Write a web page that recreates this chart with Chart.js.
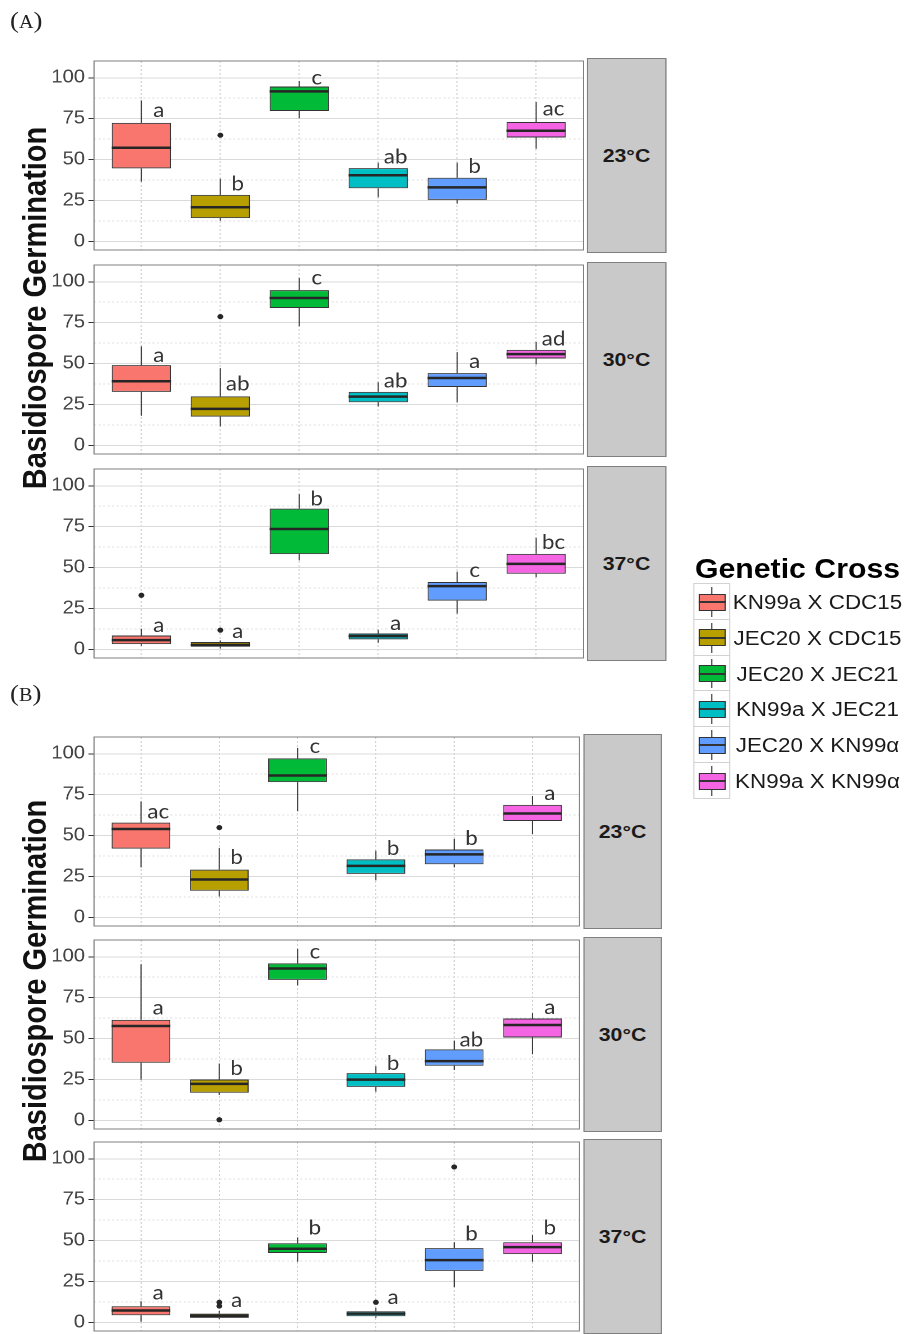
<!DOCTYPE html>
<html>
<head>
<meta charset="utf-8">
<script src="https://cdn.jsdelivr.net/npm/chart.js@4.4.1/dist/chart.umd.min.js"></script>
<style>
  html, body { margin: 0; padding: 0; background: #fff; }
  body { width: 909px; height: 1334px; overflow: hidden; position: relative; }
  /* the reference figure is stretched sideways, so everything is laid out narrow and scaled */
  #fig { position: absolute; left: 0; top: 0; width: 812px; height: 1334px;
         transform: scaleX(1.12); transform-origin: 0 0;
         font-family: "Liberation Sans", Arial, sans-serif; color: #1a1a1a; }
  #fig div { position: absolute; box-sizing: border-box; }
  .tag { font-family: "Liberation Serif", "DejaVu Serif", serif; font-size: 24px; line-height: 24px;
         color: #222; white-space: nowrap; }
  .tag span { font-size: 18px; }
  .ytitle { width: 420px; height: 36px; line-height: 36px; text-align: center; font-weight: bold;
            font-size: 29px; color: #111; transform: rotate(-90deg); white-space: nowrap; }
  .strip { background: #c9c9c9; border: 1px solid #7f7f7f; font-weight: bold; font-size: 19px;
           display: flex; align-items: center; justify-content: center; color: #1a1a1a; }
  .legTitle { font-weight: bold; font-size: 27px; line-height: 28px; color: #000; white-space: nowrap; }
  .key { border: 1px solid #d2d2d2; background: #fff; }
  .legLabel { font-size: 20px; text-align: center; white-space: nowrap; color: #1a1a1a; }
</style>
</head>
<body>
<div id="fig"></div>
<script>
// ---- data ----
const crosses = ['KN99a X CDC15', 'JEC20 X CDC15', 'JEC20 X JEC21', 'KN99a X JEC21', 'JEC20 X KN99\u03b1', 'KN99a X KN99\u03b1'];
const colors = ['#F8766D', '#B79F00', '#00BA38', '#00BFC4', '#619CFF', '#F564E3'];
const temps = ['23\u00b0C', '30\u00b0C', '37\u00b0C'];
const yTicks = [0, 25, 50, 75, 100];
const yMinorTicks = [12.5, 37.5, 62.5, 87.5];

// panel (A): one row per temperature
const aLow  = [[36.5, 12.6, 75.3, 27.0, 23.1, 56.6], [18.1, 11.6, 72.8, 23.8, 26.4, 49.5], [2.2, 0.5, 54.4, 4.1, 21.9, 44.2]];
const aQ1   = [[44.6, 14.2, 79.7, 32.5, 25.4, 63.5], [32.7, 17.6, 84.0, 26.4, 35.7, 53.1], [3.2, 1.6, 58.2, 6.1, 29.8, 46.2]];
const aMed  = [[57.2, 20.9, 91.7, 40.4, 33.0, 67.6], [39.2, 22.3, 90.1, 29.8, 41.2, 55.8], [5.7, 2.8, 73.6, 8.1, 38.7, 52.3]];
const aQ3   = [[72.4, 28.4, 94.7, 44.8, 38.9, 73.0], [49.1, 30.0, 94.9, 32.7, 44.2, 58.4], [8.5, 4.5, 86.0, 9.7, 41.2, 58.4]];
const aHigh = [[86.2, 38.3, 98.0, 48.1, 48.1, 85.2], [60.5, 47.2, 102.4, 38.6, 57.0, 63.3], [12.6, 5.5, 94.9, 12.0, 47.5, 68.2]];
const aOut  = [[[1, 64.9]], [[1, 78.7]], [[0, 33.1], [1, 11.8]]];
const aLetters = [['a', 'b', 'c', 'ab', 'b', 'ac'], ['a', 'ab', 'c', 'ab', 'a', 'ad'], ['a', 'a', 'b', 'a', 'c', 'bc']];
const aLetterY = [[75.9, 31.0, 96.0, 47.7, 41.8, 76.9], [51.1, 33.7, 98.4, 35.3, 47.2, 61.0], [10.7, 7.1, 88.0, 12.0, 44.2, 61.4]];

// panel (B)
const bLow  = [[30.6, 12.7, 64.9, 22.6, 30.6, 51.0], [24.9, 15.5, 82.5, 17.5, 30.8, 40.4], [0.4, 2.0, 37.1, 2.8, 21.6, 37.1]];
const bQ1   = [[42.0, 16.3, 82.7, 26.6, 32.5, 58.9], [35.2, 16.9, 85.9, 20.5, 33.4, 50.7], [4.4, 2.8, 42.4, 3.8, 31.5, 41.7]];
const bMed  = [[54.0, 23.2, 86.7, 31.5, 38.5, 63.5], [57.7, 22.3, 92.8, 24.9, 36.2, 58.3], [7.3, 4.0, 45.0, 5.4, 38.1, 46.0]];
const bQ3   = [[57.9, 29.2, 97.2, 35.5, 41.5, 68.8], [61.4, 25.0, 96.0, 28.9, 43.4, 62.3], [9.9, 5.4, 48.4, 6.8, 45.4, 49.0]];
const bHigh = [[70.8, 42.5, 103.6, 40.7, 48.0, 74.2], [95.4, 34.8, 104.8, 33.2, 48.7, 65.6], [12.9, 7.0, 52.0, 8.9, 49.0, 53.4]];
const bOut  = [[[1, 54.9]], [[1, 0.4]], [[1, 10.0], [1, 12.3], [3, 12.3], [4, 95.0]]];
const bLetters = [['ac', 'b', 'c', 'b', 'b', 'a'], ['a', 'b', 'c', 'b', 'ab', 'a'], ['a', 'a', 'b', 'a', 'b', 'b']];
const bLetterY = [[60.5, 32.5, 100.6, 38.1, 44.4, 71.8], [64.6, 27.8, 98.8, 30.8, 45.1, 65.0], [13.9, 9.3, 53.6, 11.3, 50.0, 53.6]];

// ---- layout ----
const S = 1.12;               // sideways stretch of the reference
const cx = v => v / S;        // reference px -> layout px
const fig = document.getElementById('fig');
const Y_MIN = -5.25, Y_MAX = 110.25;
const BOX_W = 0.75, LETTER_DX = 0.22;
const FACET_H = 195;
const PLOT_LEFT = 94;

function addDiv(cls, css, text) {
  const d = document.createElement('div');
  if (cls) d.className = cls;
  Object.assign(d.style, css);
  if (text !== undefined) d.textContent = text;
  fig.appendChild(d);
  return d;
}

const panelFrame = {
  id: 'panelFrame',
  afterDatasetsDraw(chart) {
    const { ctx, chartArea: a } = chart;
    ctx.save();
    ctx.strokeStyle = '#7f7f7f';
    ctx.lineWidth = 1;
    ctx.strokeRect(a.left, a.top, a.right - a.left, a.bottom - a.top);
    ctx.restore();
  }
};

const letterMarks = {
  id: 'letterMarks',
  afterDatasetsDraw(chart, args, opts) {
    const { ctx, scales: { x, y } } = chart;
    ctx.save();
    ctx.font = '20px Lato, "Open Sans", sans-serif';
    ctx.fillStyle = '#333333';
    ctx.textAlign = 'center';
    ctx.textBaseline = 'alphabetic';
    opts.text.forEach((t, i) => ctx.fillText(t, x.getPixelForValue(i + LETTER_DX), y.getPixelForValue(opts.at[i])));
    ctx.restore();
  }
};

function drawFacet(p, f, top, right) {
  const wrap = addDiv('', { left: '0px', top: (top - 1) + 'px', width: cx(right + 1) + 'px', height: (FACET_H + 2) + 'px' });
  const canvas = document.createElement('canvas');
  wrap.appendChild(canvas);

  const boxData = crosses.map((c, i) => ({ x: i, y: [p.q1[f][i], p.q3[f][i]] }));
  const whiskerData = crosses.flatMap((c, i) => [
    { x: i, y: p.low[f][i] }, { x: i, y: p.q1[f][i] }, { x: i, y: null },
    { x: i, y: p.q3[f][i] }, { x: i, y: p.high[f][i] }, { x: i, y: null }]);
  const medianData = crosses.flatMap((c, i) => [
    { x: i - BOX_W / 2, y: p.med[f][i] }, { x: i + BOX_W / 2, y: p.med[f][i] }, { x: i, y: null }]);
  const outlierData = p.out[f].map(([i, v]) => ({ x: i, y: v }));

  new Chart(canvas, {
    type: 'bar',
    data: {
      datasets: [
        { type: 'line', data: medianData, borderColor: '#262626', borderWidth: 2.5, pointRadius: 0, spanGaps: false, fill: false },
        { type: 'scatter', data: outlierData, pointRadius: 2.6, pointBackgroundColor: '#262626', pointBorderWidth: 0 },
        { type: 'bar', data: boxData, backgroundColor: colors, borderColor: '#333333', borderWidth: 1,
          borderSkipped: false, barPercentage: BOX_W, categoryPercentage: 1 },
        { type: 'line', data: whiskerData, borderColor: '#333333', borderWidth: 1, pointRadius: 0, spanGaps: false, fill: false }
      ]
    },
    options: {
      responsive: true, maintainAspectRatio: false, animation: false, devicePixelRatio: 2, events: [],
      layout: { padding: { top: 1, bottom: 1, right: 1, left: 0 } },
      plugins: {
        legend: { display: false }, tooltip: { enabled: false },
        letterMarks: { text: p.letters[f], at: p.letterY[f] }
      },
      scales: {
        x: {
          type: 'linear', min: -0.6, max: 5.6, offset: false,
          afterBuildTicks: s => { s.ticks = crosses.map((c, i) => ({ value: i })); },
          ticks: { display: false },
          grid: { color: '#d2d2d2', drawTicks: false, offset: false },
          border: { display: false, dash: [2, 2] },
          afterFit: s => { s.height = 0; s.paddingLeft = 0; s.paddingRight = 0; }
        },
        y: {
          type: 'linear', position: 'left', min: Y_MIN, max: Y_MAX,
          afterBuildTicks: s => { s.ticks = yTicks.map(v => ({ value: v })); },
          ticks: { color: '#444444', padding: 3, font: { family: '"Liberation Sans", Arial, sans-serif', size: 18 } },
          grid: { color: '#dadada', tickColor: '#333333', tickLength: 5 },
          border: { display: false },
          afterFit: s => { s.width = cx(PLOT_LEFT); s.paddingTop = 0; s.paddingBottom = 0; }
        },
        yMinor: {
          type: 'linear', position: 'left', min: Y_MIN, max: Y_MAX,
          afterBuildTicks: s => { s.ticks = yMinorTicks.map(v => ({ value: v })); },
          ticks: { display: false },
          grid: { color: '#e0e0e0', drawTicks: false },
          border: { display: false, dash: [2, 2] },
          afterFit: s => { s.width = 0; s.paddingTop = 0; s.paddingBottom = 0; }
        }
      }
    },
    plugins: [panelFrame, letterMarks]
  });

  addDiv('strip', { left: cx(right) + 'px', top: top + 'px', width: cx(79) + 'px', height: FACET_H + 'px' }, temps[f]);
}

const panelA = { low: aLow, q1: aQ1, med: aMed, q3: aQ3, high: aHigh, out: aOut, letters: aLetters, letterY: aLetterY };
const panelB = { low: bLow, q1: bQ1, med: bMed, q3: bQ3, high: bHigh, out: bOut, letters: bLetters, letterY: bLetterY };

[58, 262, 466].forEach((top, f) => drawFacet(panelA, f, top, 587));
[734, 937, 1139].forEach((top, f) => drawFacet(panelB, f, top, 583));

// panel tags and axis titles
function addTag(letter, top) {
  const d = addDiv('tag', { left: cx(10) + 'px', top: top + 'px' });
  const s = document.createElement('span');
  s.textContent = letter;
  d.append('(', s, ')');
}
addTag('A', 8);
addTag('B', 681);
addDiv('ytitle', { left: (cx(34.3) - 210) + 'px', top: (307.5 - 18) + 'px' }, 'Basidiospore Germination');
addDiv('ytitle', { left: (cx(34.3) - 210) + 'px', top: (981 - 18) + 'px' }, 'Basidiospore Germination');

// legend
addDiv('legTitle', { left: cx(695) + 'px', top: '555px' }, 'Genetic Cross');
const KEY_H = 35.8, KEY_TOP = 583;
crosses.forEach((name, k) => {
  const top = KEY_TOP + k * KEY_H;
  const key = addDiv('key', { left: cx(693) + 'px', top: top + 'px', width: cx(37) + 'px', height: (KEY_H + 1) + 'px' });
  const whisk = document.createElement('div');
  Object.assign(whisk.style, { left: (cx(18) - 0.5) + 'px', top: '3px', width: '1px', height: (KEY_H - 6) + 'px', background: '#333' });
  const box = document.createElement('div');
  Object.assign(box.style, { left: cx(4.5) + 'px', top: '9.5px', width: cx(27) + 'px', height: '17px',
    background: colors[k], border: '1px solid #333' });
  const med = document.createElement('div');
  Object.assign(med.style, { left: cx(4.5) + 'px', top: '17px', width: cx(27) + 'px', height: '2px', background: '#333' });
  key.append(whisk, box, med);
  addDiv('legLabel', { left: cx(730) + 'px', top: (top + 5) + 'px', width: cx(175) + 'px', height: '28px', lineHeight: '28px' }, name);
});
</script>
</body>
</html>
